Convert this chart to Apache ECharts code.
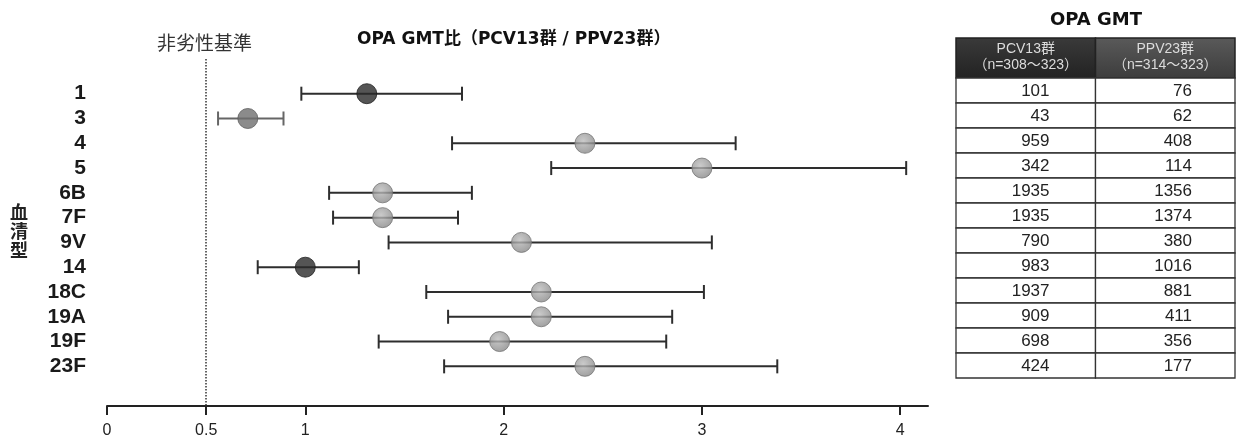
<!DOCTYPE html>
<html><head><meta charset="utf-8">
<script src="https://cdn.jsdelivr.net/npm/echarts@6/dist/echarts.min.js"></script>
<style>html,body{margin:0;padding:0;background:#fff}#c{width:1236px;height:439px}</style>
</head><body><div id="c"></div>
<script>
// ---- data ----
const serotypes = ['1','3','4','5','6B','7F','9V','14','18C','19A','19F','23F'];
const gmtRatio  = [1.31,0.71,2.41,3.00,1.39,1.39,2.09,1.00,2.19,2.19,1.98,2.41];
const ciLower   = [0.98,0.56,1.74,2.24,1.12,1.14,1.42,0.76,1.61,1.72,1.37,1.70];
const ciUpper   = [1.79,0.89,3.17,4.03,1.84,1.77,3.05,1.27,3.01,2.85,2.82,3.38];
const pcv13Gmt  = [101,43,959,342,1935,1935,790,983,1937,909,698,424];
const ppv23Gmt  = [76,62,408,114,1356,1374,380,1016,881,411,356,177];
const xTicks    = [0,0.5,1,2,3,4];
const nonInferiorityMargin = 0.5;
const tableHeaders = [['PCV13群','（n=308～323）'],['PPV23群','（n=314～323）']];
const chartTitle = 'OPA GMT比（PCV13群 / PPV23群）';
const tableTitle = 'OPA GMT';
const marginLabel = '非劣性基準';
const yTitle = '血\n清\n型';

// ---- styles ----
const markerKind = {'1':'dark','14':'dark','3':'mid'};
function markerStyle(s){
  const k = markerKind[s];
  if (k === 'dark') return {color:'#2a2a2a', borderColor:'#1e1e1e', borderWidth:1};
  if (k === 'mid') return {color:'#6e6e6e', borderColor:'#5e5e5e', borderWidth:1};
  return {color:new echarts.graphic.RadialGradient(0.42,0.38,0.65,[{offset:0,color:'#bdbdbd'},{offset:1,color:'#868686'}]), borderColor:'#747474', borderWidth:1};
}
function barColor(s){ return markerKind[s]==='mid' ? '#666' : '#2e2e2e'; }

const chart = echarts.init(document.getElementById('c'));
const rowIdx = serotypes.map((_, i) => i);

const option = {
  animation:false,
  backgroundColor:'#fff',
  title:[
    {text:chartTitle, left:357, top:31, padding:0, textStyle:{fontFamily:'"DejaVu Sans","Noto Sans CJK JP"', fontWeight:'bold', fontSize:17, color:'#111'}},
    {text:marginLabel, left:157, top:33, padding:0, textStyle:{fontFamily:'"Noto Sans CJK JP"', fontWeight:'normal', fontSize:19, color:'#333'}},
    {text:tableTitle, left:1050, top:11, padding:0, textStyle:{fontFamily:'"DejaVu Sans"', fontWeight:'bold', fontSize:18, color:'#111'}},
    {text:yTitle, left:10, top:203, padding:0, textStyle:{fontFamily:'"Noto Sans CJK JP"', fontWeight:'bold', fontSize:18, lineHeight:19, color:'#222'}}
  ],
  grid:[
    {left:107, right:308, top:59, bottom:33},
    {left:956, right:1, top:38, bottom:61}
  ],
  xAxis:[
    {type:'value', gridIndex:0, min:0, max:4.14,
     splitLine:{show:false},
     axisLine:{show:true, onZero:false, lineStyle:{color:'#222', width:2}},
     axisTick:{show:true, customValues:xTicks, length:9, lineStyle:{color:'#222', width:2}},
     axisLabel:{customValues:xTicks, margin:17, fontSize:16, color:'#222', fontFamily:'"Liberation Sans", Arial'}},
    {type:'value', gridIndex:1, min:0, max:2, show:false}
  ],
  yAxis:[
    {type:'value', gridIndex:0, inverse:true, min:-1.4, max:12.6,
     splitLine:{show:false}, axisLine:{show:false}, axisTick:{show:false},
     axisLabel:{customValues:rowIdx, formatter:v => serotypes[Math.round(v)] || '', margin:21,
       fontSize:21, fontWeight:'bold', color:'#1a1a1a', fontFamily:'"Liberation Sans", Arial'}},
    {type:'value', gridIndex:1, inverse:true, min:-1.6, max:12, show:false}
  ],
  series:[
    {
      type:'custom', xAxisIndex:0, yAxisIndex:0, silent:true,
      data: serotypes.map((s,i)=>[ciLower[i], ciUpper[i], i]),
      encode:{x:[0,1], y:2},
      renderItem:function(params, api){
        const lo = api.coord([api.value(0), api.value(2)]);
        const hi = api.coord([api.value(1), api.value(2)]);
        const c = barColor(serotypes[params.dataIndex]);
        const h = 7;
        const st = {stroke:c, lineWidth:2};
        return {type:'group', children:[
          {type:'line', shape:{x1:lo[0], y1:lo[1], x2:hi[0], y2:hi[1]}, style:st},
          {type:'line', shape:{x1:lo[0], y1:lo[1]-h, x2:lo[0], y2:lo[1]+h}, style:st},
          {type:'line', shape:{x1:hi[0], y1:hi[1]-h, x2:hi[0], y2:hi[1]+h}, style:st}
        ]};
      },
      z:2
    },
    {
      type:'scatter', xAxisIndex:0, yAxisIndex:0, symbol:'circle', symbolSize:20, silent:true,
      data: gmtRatio.map((v,i)=>({value:[v,i], itemStyle:markerStyle(serotypes[i])})),
      z:3,
      markLine:{
        silent:true, symbol:['none','none'],
        label:{show:false},
        lineStyle:{type:'dotted', color:'#333', width:1.5},
        data:[{xAxis:nonInferiorityMargin}]
      }
    },
    {
      type:'custom', xAxisIndex:1, yAxisIndex:1, silent:true,
      data: tableHeaders.map((h,i)=>[i, -1.6]),
      encode:{x:0, y:1},
      renderItem:function(params, api){
        const c = api.value(0);
        const p0 = api.coord([c, -1.6]);
        const p1 = api.coord([c+1, 0]);
        const hdr = tableHeaders[params.dataIndex];
        const fill = c === 0
          ? new echarts.graphic.LinearGradient(0,0,0,1,[{offset:0,color:'#3a3a3a'},{offset:1,color:'#222'}])
          : new echarts.graphic.LinearGradient(0,0,0,1,[{offset:0,color:'#5a5a5a'},{offset:1,color:'#3c3c3c'}]);
        const y0 = Math.min(p0[1], p1[1]), y1 = Math.max(p0[1], p1[1]);
        const cx = (p0[0]+p1[0])/2;
        return {type:'group', children:[
          {type:'rect', shape:{x:p0[0], y:y0, width:p1[0]-p0[0], height:y1-y0}, style:{fill:fill, stroke:'#222', lineWidth:1.5}},
          {type:'text', style:{text:hdr[0], x:cx, y:y0+11, align:'center', verticalAlign:'middle', fill:'#dcdcdc', font:'14px "Liberation Sans","Noto Sans CJK JP"'}},
          {type:'text', style:{text:hdr[1], x:cx, y:y0+27, align:'center', verticalAlign:'middle', fill:'#dcdcdc', font:'14px "Liberation Sans","Noto Sans CJK JP"'}}
        ]};
      }
    },
    {
      type:'custom', xAxisIndex:1, yAxisIndex:1, silent:true,
      data: [].concat(...serotypes.map((s,i)=>[[0, i, pcv13Gmt[i]], [1, i, ppv23Gmt[i]]])),
      encode:{x:0, y:1},
      renderItem:function(params, api){
        const c = api.value(0), r = api.value(1), v = api.value(2);
        const p0 = api.coord([c, r]);
        const p1 = api.coord([c+1, r+1]);
        const y0 = Math.min(p0[1], p1[1]), y1 = Math.max(p0[1], p1[1]);
        return {type:'group', children:[
          {type:'rect', shape:{x:p0[0], y:y0, width:p1[0]-p0[0], height:y1-y0}, style:{fill:'#fff', stroke:'#333', lineWidth:1.3}},
          {type:'text', style:{text:String(v), x:p1[0]-(c===0?46:43), y:(y0+y1)/2+1, align:'right', verticalAlign:'middle', fill:'#222', font:'17px "Liberation Sans", Arial'}}
        ]};
      }
    }
  ]
};
chart.setOption(option);
</script>
</body></html>
